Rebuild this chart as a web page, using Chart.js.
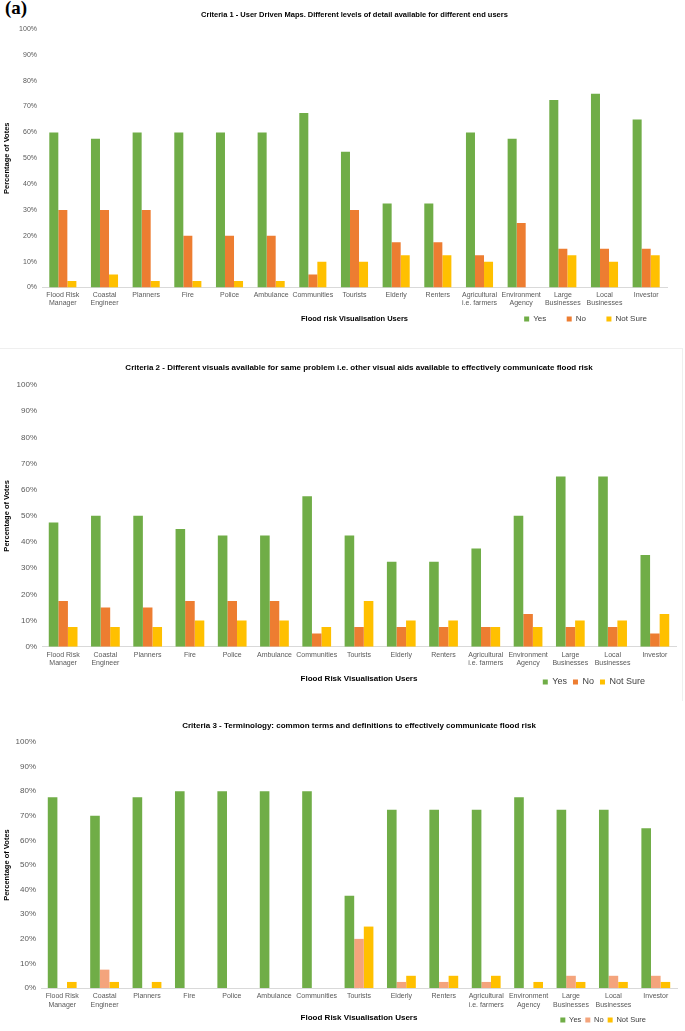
<!DOCTYPE html>
<html>
<head>
<meta charset="utf-8">
<script src="https://cdn.jsdelivr.net/npm/chart.js@4.4.1/dist/chart.umd.min.js"></script>
<style>
body { margin: 0; background: #fff; width: 685px; height: 1031px; overflow: hidden; position: relative; }
canvas { position: absolute; left: 0; }
#tag { position: absolute; left: 5px; top: -3px; font: bold 19px "Liberation Serif", serif; }
#frame2 { position: absolute; left: -1px; top: 348px; width: 683px; height: 352px; border-top: 1px solid #EFEFEF; border-right: 1px solid #EFEFEF; }
</style>
</head>
<body>
<div id="tag">(a)</div>
<div id="frame2"></div>
<canvas id="criteria1" width="685" height="362" style="top:0px"></canvas>
<canvas id="criteria2" width="685" height="369" style="top:340px"></canvas>
<canvas id="criteria3" width="685" height="349" style="top:695px"></canvas>
<script>
const users = [
    ["Flood Risk", "Manager"], ["Coastal", "Engineer"], "Planners", "Fire", "Police", "Ambulance", "Communities",
    "Tourists", "Elderly", "Renters", ["Agricultural", "i.e. farmers"], ["Environment", "Agency"],
    ["Large", "Businesses"], ["Local", "Businesses"], "Investor"
];
const seriesNames = ["Yes", "No", "Not Sure"];
const tickLabels = ["0%", "10%", "20%", "30%", "40%", "50%", "60%", "70%", "80%", "90%", "100%"];

// Criteria 1
const yes1 = [60, 57.5, 60, 60, 60, 60, 67.5, 52.5, 32.5, 32.5, 60, 57.5, 72.5, 75, 65];
const no1 = [30, 30, 30, 20, 20, 20, 5, 30, 17.5, 17.5, 12.5, 25, 15, 15, 15];
const notSure1 = [2.5, 5, 2.5, 2.5, 2.5, 2.5, 10, 10, 12.5, 12.5, 10, 0, 12.5, 10, 12.5];

// Criteria 2
const yes2 = [47.5, 50, 50, 45, 42.5, 42.5, 57.5, 42.5, 32.5, 32.5, 37.5, 50, 65, 65, 35];
const no2 = [17.5, 15, 15, 17.5, 17.5, 17.5, 5, 7.5, 7.5, 7.5, 7.5, 12.5, 7.5, 7.5, 5];
const notSure2 = [7.5, 7.5, 7.5, 10, 10, 10, 7.5, 17.5, 10, 10, 7.5, 7.5, 10, 10, 12.5];

// Criteria 3
const yes3 = [77.5, 70, 77.5, 80, 80, 80, 80, 37.5, 72.5, 72.5, 72.5, 77.5, 72.5, 72.5, 65];
const no3 = [0, 7.5, 0, 0, 0, 0, 0, 20, 2.5, 2.5, 2.5, 0, 5, 5, 5];
const notSure3 = [2.5, 2.5, 2.5, 0, 0, 0, 0, 25, 5, 5, 5, 2.5, 2.5, 2.5, 2.5];

Chart.defaults.font.family = '"Liberation Sans", Arial, sans-serif';
Chart.defaults.color = '#595959';

// moves the legend box next to the x axis title, like the excel original
const placeLegend = {
    id: 'placeLegend',
    afterLayout(chart, args, opts) {
        const lg = chart.legend;
        const dx = opts.right - lg.right;
        const dy = opts.top - lg.top;
        lg.left += dx;
        lg.right += dx;
        lg.top += dy;
        lg.bottom += dy;
    }
};

function drawCriteria(id, o) {
    new Chart(document.getElementById(id), {
        type: 'bar',
        data: {
            labels: users,
            datasets: [
                { label: seriesNames[0], data: o.yes, backgroundColor: '#70AD47' },
                { label: seriesNames[1], data: o.no, backgroundColor: o.noColor },
                { label: seriesNames[2], data: o.notSure, backgroundColor: '#FFC000' }
            ]
        },
        options: {
            responsive: false,
            animation: false,
            categoryPercentage: o.catPct,
            barPercentage: 1,
            borderWidth: 0,
            layout: { padding: { left: 0, right: o.padRight, top: 0, bottom: 0 } },
            plugins: {
                tooltip: { enabled: false },
                title: {
                    display: true,
                    text: o.title,
                    fullSize: false,
                    color: '#000',
                    font: { size: o.titleSize, weight: 'bold' },
                    padding: o.titlePad
                },
                legend: {
                    position: 'bottom',
                    align: 'end',
                    fullSize: false,
                    labels: {
                        boxWidth: 5,
                        boxHeight: 5,
                        padding: o.legendPad,
                        color: '#404040',
                        font: { size: o.legendSize }
                    }
                },
                placeLegend: o.legendAt
            },
            scales: {
                x: {
                    grid: { display: false, drawTicks: false },
                    border: { color: '#D9D9D9' },
                    ticks: { autoSkip: false, maxRotation: 0, padding: o.xTickPad, font: { size: 7 } },
                    title: {
                        display: true,
                        text: o.xTitle,
                        color: '#000',
                        font: { size: o.xTitleSize, weight: 'bold' },
                        padding: { top: o.xTitleTop, bottom: 0 }
                    }
                },
                y: {
                    min: 0,
                    max: 100,
                    afterFit: (scale) => { scale.width = o.yWidth; },
                    grid: { display: false, drawTicks: false },
                    border: { display: false },
                    ticks: {
                        stepSize: 10,
                        padding: 5,
                        font: { size: o.yTickSize },
                        callback: (value, index) => tickLabels[index]
                    },
                    title: {
                        display: true,
                        text: 'Percentage of Votes',
                        color: '#000',
                        font: { size: 7.5, weight: 'bold' },
                        padding: { top: 2.5, bottom: 0 }
                    }
                }
            }
        },
        plugins: [placeLegend]
    });
}

drawCriteria('criteria1', {
    title: 'Criteria 1 - User Driven Maps. Different levels of detail available for different end users',
    xTitle: 'Flood risk Visualisation Users',
    yes: yes1, no: no1, notSure: notSure1, noColor: '#ED7D31',
    catPct: 0.65, padRight: 18, yWidth: 42,
    titleSize: 7.5, titlePad: { top: 10.5, bottom: 9.5 },
    xTickPad: 3, xTitleSize: 7.5, xTitleTop: 4.2,
    yTickSize: 7, legendSize: 8, legendPad: 20.5,
    legendAt: { right: 667.5, top: 294.5 }
});

drawCriteria('criteria2', {
    title: 'Criteria 2 - Different visuals available for same problem i.e. other visual aids available to effectively communicate flood risk',
    xTitle: 'Flood Risk Visualisation Users',
    yes: yes2, no: no2, notSure: notSure2, noColor: '#ED7D31',
    catPct: 0.68, padRight: 9, yWidth: 42,
    titleSize: 8, titlePad: { top: 23, bottom: 12.4 },
    xTickPad: 4, xTitleSize: 8, xTitleTop: 2.9,
    yTickSize: 8, legendSize: 9, legendPad: 6,
    legendAt: { right: 651, top: 331.5 }
});

drawCriteria('criteria3', {
    title: 'Criteria 3 - Terminology: common terms and definitions to effectively communicate flood risk',
    xTitle: 'Flood Risk Visualisation Users',
    yes: yes3, no: no3, notSure: notSure3, noColor: '#F4A47C',
    catPct: 0.68, padRight: 8, yWidth: 41,
    titleSize: 8, titlePad: { top: 26.2, bottom: 11.2 },
    xTickPad: 4, xTitleSize: 8, xTitleTop: 0,
    yTickSize: 8, legendSize: 7.5, legendPad: 4,
    legendAt: { right: 650, top: 317.25 }
});
</script>
</body>
</html>
